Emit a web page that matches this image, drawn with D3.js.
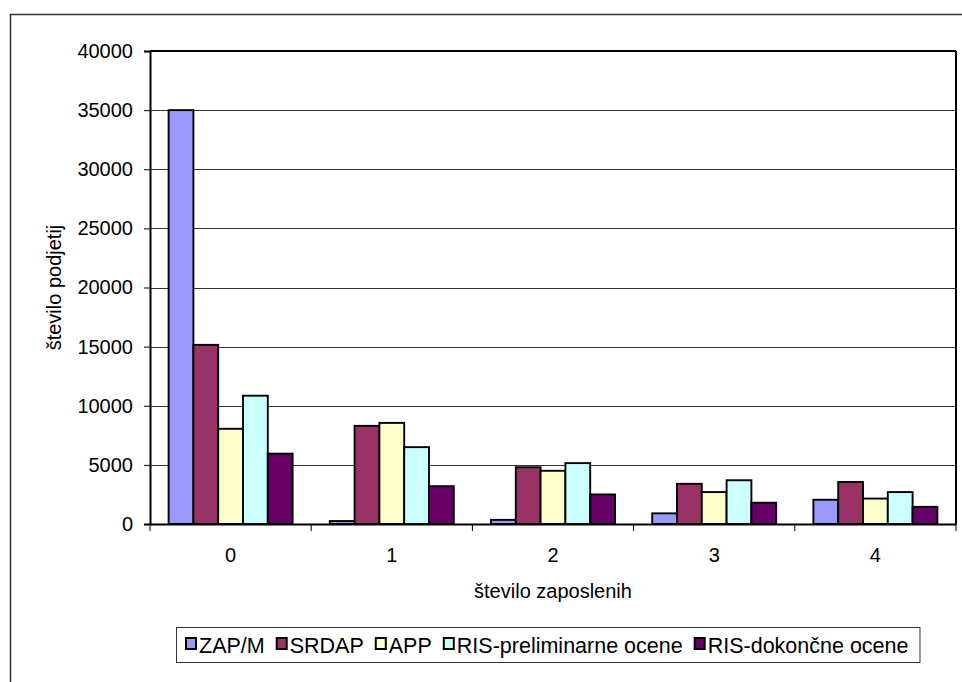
<!DOCTYPE html>
<html><head><meta charset="utf-8">
<script src="https://cdn.jsdelivr.net/npm/d3@7"></script>
<style>body{margin:0;background:#fff;} text{font-family:"Liberation Sans",Arial,sans-serif;fill:#000;}</style>
</head><body>
<svg id="c" width="962" height="682"></svg>
<script>
const categories = ["0","1","2","3","4"];
const seriesNames = ["ZAP/M","SRDAP","APP","RIS-preliminarne ocene","RIS-dokončne ocene"];
const zapM   = [35000, 250, 350, 900, 2050];
const srdap  = [15150, 8300, 4800, 3400, 3550];
const app    = [8050, 8550, 4500, 2700, 2150];
const risPre = [10850, 6500, 5150, 3700, 2700];
const risDok = [5950, 3200, 2500, 1800, 1450];
const yTicks = [0,5000,10000,15000,20000,25000,30000,35000,40000];
const colors = ["#9999FF","#993366","#FFFFCC","#CCFFFF","#660066"];
const xTitle = "število zaposlenih";
const yTitle = "število podjetij";

const series = [zapM, srdap, app, risPre, risDok];
const svg = d3.select("#c");
const L = 150, R = 956, T = 51, B = 524;
const FS = 20;
const FF = "Liberation Sans, Arial, sans-serif";

// outer chart border
svg.append("rect").attr("x",10.5).attr("y",14.5).attr("width",980).attr("height",700)
  .attr("fill","none").attr("stroke","#333").attr("stroke-width",1.5);

const x0 = d3.scaleBand().domain(categories).range([L,R]).paddingInner(0).paddingOuter(0);
const bw = x0.bandwidth()/6.5;
const y = d3.scaleLinear().domain([0,40000]).range([B,T]);

// gridlines
svg.append("g").selectAll("line").data(yTicks.filter(d=>d>0)).join("line")
  .attr("x1",L).attr("x2",R).attr("y1",d=>Math.round(y(d))+0.5).attr("y2",d=>Math.round(y(d))+0.5)
  .attr("stroke","#333").attr("stroke-width",1);

// bars
const g = svg.append("g");
series.forEach((vals,si)=>{
  g.selectAll(null).data(vals).join("rect")
    .attr("x",(d,i)=>x0(categories[i]) + 0.75*bw + si*bw)
    .attr("y",d=>y(d))
    .attr("width",bw)
    .attr("height",d=>B-y(d))
    .attr("fill",colors[si]).attr("stroke","#000").attr("stroke-width",1.9);
});

// plot border right & top
svg.append("line").attr("x1",L).attr("x2",R).attr("y1",T).attr("y2",T).attr("stroke","#000").attr("stroke-width",2);
svg.append("line").attr("x1",R).attr("x2",R).attr("y1",T).attr("y2",B).attr("stroke","#000").attr("stroke-width",2);

// y axis
const ya = d3.axisLeft(y).tickValues(yTicks).tickSize(6).tickPadding(11).tickFormat(d3.format("d"));
const yg = svg.append("g").attr("transform",`translate(${L},0)`).call(ya);
yg.attr("font-size",FS).attr("font-family",FF);
yg.select(".domain").attr("stroke","#000").attr("stroke-width",2);
yg.selectAll(".tick line").attr("stroke","#000");
yg.selectAll(".tick text").attr("fill","#000");

// x axis
const xa = d3.axisBottom(x0).tickSize(0).tickPadding(24);
const xg = svg.append("g").attr("transform",`translate(0,${B})`).call(xa);
xg.attr("font-size",FS).attr("font-family",FF);
xg.select(".domain").attr("stroke","#000").attr("stroke-width",2);
xg.selectAll(".tick text").attr("fill","#000");
// category boundary ticks
const bounds = categories.map(c=>x0(c)).concat([R]);
svg.append("g").selectAll("line").data(bounds).join("line")
  .attr("x1",d=>d).attr("x2",d=>d).attr("y1",B).attr("y2",B+7).attr("stroke","#000").attr("stroke-width",1);

// titles
svg.append("text").attr("x",(L+R)/2).attr("y",598).attr("text-anchor","middle").attr("font-size",FS).text(xTitle);
svg.append("text").attr("transform",`translate(61,${(T+B)/2}) rotate(-90)`).attr("text-anchor","middle").attr("font-size",FS).text(yTitle);

// legend
const lg = svg.append("g");
const box = lg.append("rect").attr("y",627.5).attr("height",35).attr("fill","#fff").attr("stroke","#333").attr("stroke-width",1);
let cx = 185;
seriesNames.forEach((n,i)=>{
  lg.append("rect").attr("x",cx+1).attr("y",638).attr("width",10).attr("height",11)
    .attr("fill",colors[i]).attr("stroke","#000").attr("stroke-width",2);
  const t = lg.append("text").attr("x",cx+14).attr("y",652.5).attr("font-size",21.5).text(n);
  cx += 14 + t.node().getComputedTextLength() + 11;
});
box.attr("x",176.5).attr("width",cx-176);
</script>
</body></html>
